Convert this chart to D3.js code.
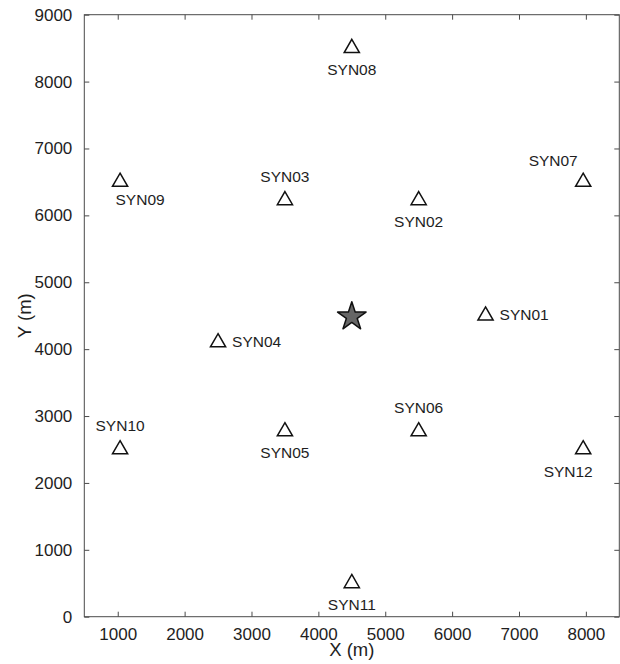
<!DOCTYPE html>
<html>
<head>
<meta charset="utf-8">
<script src="https://cdn.jsdelivr.net/npm/d3@7"></script>
<style>
  html, body { margin: 0; padding: 0; background: #fff; }
  svg { display: block; font-family: "Liberation Sans", Arial, Helvetica, sans-serif; }
</style>
</head>
<body>
<svg id="chart" width="620" height="664"></svg>
<script>
// Station network layout: receiver stations and the source location (metres)
const stationNames = ["SYN01","SYN02","SYN03","SYN04","SYN05","SYN06","SYN07","SYN08","SYN09","SYN10","SYN11","SYN12"];
const stationX = [6500, 5500, 3500, 2500, 3500, 5500, 7960, 4500, 1035, 1035, 4500, 7960];
const stationY = [4500, 6225, 6225, 4100, 2770, 2770, 6500, 8500, 6500, 2500, 500, 2500];
// where each label sits relative to its marker
const labelSide = ["right","below","above","right","below","above","aboveleft","below","belowright","above","below","belowleft"];
const sourceX = [4500];
const sourceY = [4500];
const xTicks = [1000, 2000, 3000, 4000, 5000, 6000, 7000, 8000];
const yTicks = [0, 1000, 2000, 3000, 4000, 5000, 6000, 7000, 8000, 9000];

const svg = d3.select("#chart");
const plotLeft = 84.3, plotRight = 619.3, plotTop = 14.7, plotBottom = 616.7;
const x = d3.scaleLinear().domain([500, 8500]).range([plotLeft, plotRight]);
const y = d3.scaleLinear().domain([0, 9000]).range([plotBottom, plotTop]);
const axisColor = "#4a4a4a";
const textColor = "#1e1e1e";
const tickLen = 5;

// frame
svg.append("rect")
  .attr("x", plotLeft).attr("y", plotTop)
  .attr("width", plotRight - plotLeft).attr("height", plotBottom - plotTop)
  .attr("fill", "none").attr("stroke", axisColor).attr("stroke-width", 1);

function styleAxis(g) {
  g.select(".domain").remove();
  g.selectAll(".tick line").attr("stroke", axisColor).attr("stroke-width", 1);
  g.selectAll(".tick text").attr("fill", textColor).style("font-size", "17px")
    .style("font-family", "'Liberation Sans', Arial, sans-serif");
}

// bottom axis, inward ticks
svg.append("g").attr("transform", `translate(0,${plotBottom})`)
  .call(d3.axisBottom(x).tickValues(xTicks).tickFormat(d3.format("d")).tickSizeInner(-tickLen).tickSizeOuter(0).tickPadding(11))
  .call(styleAxis);
// top axis, ticks only
svg.append("g").attr("transform", `translate(0,${plotTop})`)
  .call(d3.axisTop(x).tickValues(xTicks).tickFormat("").tickSizeInner(-tickLen).tickSizeOuter(0))
  .call(styleAxis);
// left axis
svg.append("g").attr("transform", `translate(${plotLeft},0)`)
  .call(d3.axisLeft(y).tickValues(yTicks).tickFormat(d3.format("d")).tickSizeInner(-tickLen).tickSizeOuter(0).tickPadding(12))
  .call(styleAxis);
// right axis, ticks only
svg.append("g").attr("transform", `translate(${plotRight},0)`)
  .call(d3.axisRight(y).tickValues(yTicks).tickFormat("").tickSizeInner(-tickLen).tickSizeOuter(0))
  .call(styleAxis);

// axis titles
svg.append("text").attr("x", (plotLeft + plotRight) / 2).attr("y", 656)
  .attr("text-anchor", "middle").attr("fill", textColor).style("font-size", "18.5px").text("X (m)");
svg.append("text").attr("transform", `translate(31,${(plotTop + plotBottom) / 2}) rotate(-90)`)
  .attr("text-anchor", "middle").attr("fill", textColor).style("font-size", "18.5px").text("Y (m)");

// stations
const stations = stationNames.map((n, i) => ({ name: n, x: stationX[i], y: stationY[i], side: labelSide[i] }));
const tri = d3.symbol().type(d3.symbolTriangle).size(100);
svg.append("g").selectAll("path").data(stations).join("path")
  .attr("d", tri)
  .attr("transform", d => `translate(${x(d.x)},${y(d.y)})`)
  .attr("fill", "none").attr("stroke", "#111").attr("stroke-width", 1.5);

const offsets = {
  right:      { dx: 14,  dy: 0,   anchor: "start" },
  below:      { dx: 0,   dy: 22,  anchor: "middle" },
  above:      { dx: 0,   dy: -23, anchor: "middle" },
  aboveleft:  { dx: -30, dy: -20, anchor: "middle" },
  belowright: { dx: 20,  dy: 19,  anchor: "middle" },
  belowleft:  { dx: -15, dy: 23,  anchor: "middle" }
};
svg.append("g").selectAll("text").data(stations).join("text")
  .attr("x", d => x(d.x) + offsets[d.side].dx)
  .attr("y", d => y(d.y) + offsets[d.side].dy - 1)
  .attr("dy", "0.35em")
  .attr("text-anchor", d => offsets[d.side].anchor)
  .attr("fill", textColor).style("font-size", "15.5px")
  .text(d => d.name);

// source
const star = d3.symbol().type(d3.symbolStar).size(252);
svg.append("g").selectAll("path").data(sourceX.map((v, i) => ({ x: v, y: sourceY[i] }))).join("path")
  .attr("d", star)
  .attr("transform", d => `translate(${x(d.x)},${y(d.y) + 1})`)
  .attr("fill", "#666").attr("stroke", "#111").attr("stroke-width", 1.5).attr("stroke-linejoin", "round");
</script>
</body>
</html>
